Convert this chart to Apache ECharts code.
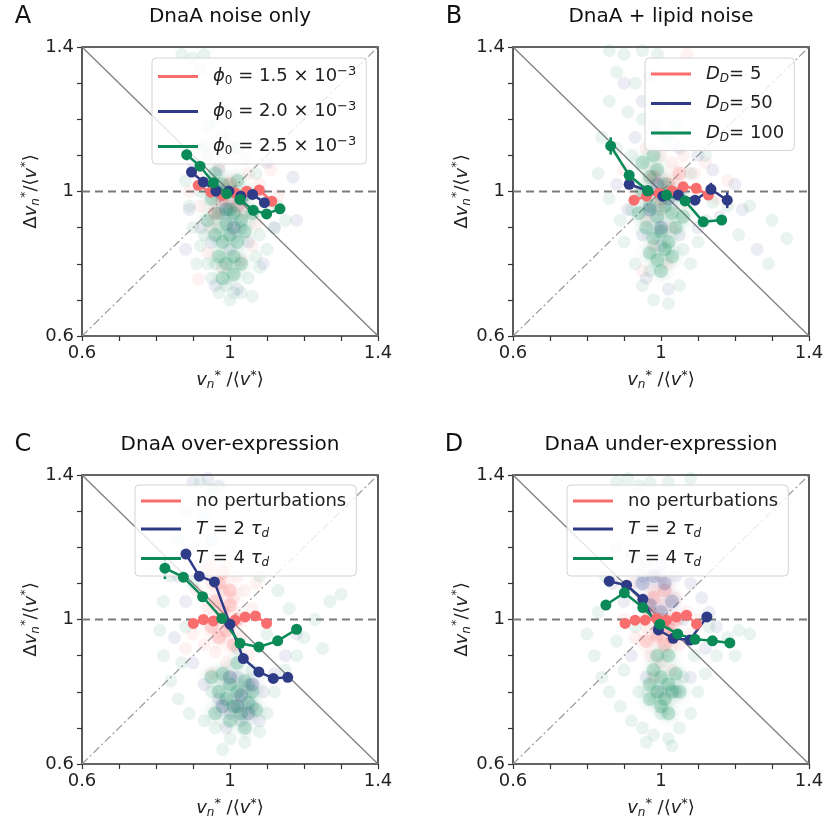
<!DOCTYPE html>
<html><head><meta charset="utf-8">
<script src="https://cdn.jsdelivr.net/npm/echarts@6/dist/echarts.min.js"></script>
<style>html,body{margin:0;padding:0;background:#fff}#c{width:827px;height:825px}</style>
</head><body><div id="c"></div>
<script>
// ---------- axis / text data ----------
const AXIS_MIN = 0.6, AXIS_MAX = 1.4, TICK_STEP = 0.1;
const TICK_VALUES = [0.6, 1, 1.4];
const TICK_LABELS = ['0.6', '1', '1.4'];
const PANEL_LETTERS = ['A', 'B', 'C', 'D'];
const PANEL_TITLES = ['DnaA noise only', 'DnaA + lipid noise', 'DnaA over-expression', 'DnaA under-expression'];
const X_NAME = '{i|v}{sub|n}{sup|*} /⟨{i|v}{sup|*}⟩';
const Y_NAME = 'Δ{i|v}{sub|n}{sup|*}/⟨{i|v}{sup|*}⟩';
const LEGEND_A = ['{i|ϕ}{sub0|0} = 1.5 × 10{sup|−3}', '{i|ϕ}{sub0|0} = 2.0 × 10{sup|−3}', '{i|ϕ}{sub0|0} = 2.5 × 10{sup|−3}'];
const LEGEND_B = ['{i|D}{sub|D}= 5', '{i|D}{sub|D}= 50', '{i|D}{sub|D}= 100'];
const LEGEND_C = ['no perturbations', '{i|T} = 2 {i|τ}{sub|d}', '{i|T} = 4 {i|τ}{sub|d}'];
const LEGEND_D = ['no perturbations', '{i|T} = 2 {i|τ}{sub|d}', '{i|T} = 4 {i|τ}{sub|d}'];
const REF_DIAG = [[0.6, 0.6], [1.4, 1.4]];
const REF_ANTI = [[0.6, 1.4], [1.4, 0.6]];
const REF_H = [[0.6, 1], [1.4, 1]];

// ---------- binned means [x, y, err] ----------
const A_RED_MEAN = [[0.914,1.017,0.006],[0.948,0.998,0.005],[0.980,0.989,0.004],[1.014,0.996,0.004],[1.045,1.001,0.004],[1.079,1.004,0.005],[1.113,0.973,0.006]];
const A_BLUE_MEAN = [[0.896,1.054,0.008],[0.928,1.026,0.005],[0.962,1.001,0.004],[0.997,1.001,0.004],[1.029,0.987,0.004],[1.061,0.992,0.005],[1.093,0.969,0.006]];
const A_GREEN_MEAN = [[0.883,1.102,0.018],[0.919,1.070,0.008],[0.955,1.024,0.005],[0.991,0.994,0.004],[1.027,0.978,0.004],[1.063,0.948,0.005],[1.099,0.938,0.006],[1.135,0.952,0.008]];
const B_RED_MEAN = [[0.927,0.976,0.008],[0.961,0.987,0.005],[0.995,0.996,0.004],[1.029,1.002,0.004],[1.060,1.013,0.005],[1.095,1.009,0.006],[1.128,0.990,0.010]];
const B_BLUE_MEAN = [[0.914,1.020,0.008],[0.964,1.002,0.004],[1.005,0.987,0.004],[1.047,0.990,0.004],[1.092,0.976,0.006],[1.135,1.006,0.018],[1.179,0.976,0.022]];
const B_GREEN_MEAN = [[0.864,1.126,0.024],[0.914,1.045,0.008],[0.964,1.002,0.005],[1.015,0.990,0.004],[1.065,0.974,0.005],[1.114,0.916,0.008],[1.164,0.921,0.010]];
const C_RED_MEAN = [[0.901,0.989,0.006],[0.928,1.000,0.005],[0.955,0.996,0.004],[0.978,1.003,0.004],[1.014,0.998,0.004],[1.041,1.007,0.004],[1.069,1.010,0.005],[1.099,0.989,0.006]];
const C_BLUE_MEAN = [[0.881,1.181,0.012],[0.917,1.120,0.008],[0.958,1.104,0.006],[1.000,0.987,0.005],[1.036,0.892,0.005],[1.078,0.855,0.006],[1.117,0.837,0.006],[1.156,0.840,0.008]];
const C_GREEN_MEAN = [[0.824,1.142,0.030],[0.874,1.117,0.010],[0.926,1.063,0.006],[0.978,1.003,0.005],[1.027,0.934,0.005],[1.078,0.924,0.006],[1.129,0.941,0.007],[1.180,0.973,0.008]];
const D_RED_MEAN = [[0.903,0.989,0.006],[0.930,0.998,0.005],[0.957,0.998,0.004],[0.988,1.003,0.004],[1.015,0.998,0.004],[1.042,1.007,0.004],[1.069,1.012,0.005],[1.096,0.987,0.006]];
const D_BLUE_MEAN = [[0.860,1.106,0.008],[0.907,1.095,0.006],[0.951,1.056,0.005],[0.993,0.971,0.005],[1.033,0.948,0.005],[1.078,0.943,0.006],[1.124,1.007,0.008]];
const D_GREEN_MEAN = [[0.851,1.040,0.014],[0.901,1.074,0.008],[0.951,1.033,0.006],[0.997,0.987,0.005],[1.045,0.960,0.005],[1.092,0.945,0.006],[1.139,0.941,0.007],[1.186,0.935,0.010]];

// ---------- individual cells (estimated) ----------
const A_RED_CLOUD = [[0.91,1.05],[0.94,1.1],[0.97,1.07],[1.01,1.1],[1.05,1.05],[1.08,1.02],[1.11,1.06],[1.13,0.99],[0.92,0.96],[0.95,0.9],[1.0,0.97],[1.04,0.94],[1.07,0.91],[0.94,0.83],[0.98,0.79],[1.03,0.81],[0.915,0.757],[0.89,1.0],[1.0,1.15],[1.06,0.85]];
const A_BLUE_CLOUD = [[0.9,1.08],[0.93,1.13],[0.97,1.06],[1.0,1.12],[1.04,1.09],[1.08,1.0],[1.17,1.04],[1.18,0.92],[0.92,0.9],[0.95,0.86],[1.0,0.84],[1.05,0.86],[1.09,0.8],[0.96,0.74],[1.02,0.73],[0.89,0.95],[1.12,0.9],[0.88,0.84],[1.1,1.08],[0.94,1.18]];
const A_GREEN_CLOUD = [[0.87,1.38],[0.9,1.37],[0.93,1.38],[0.92,1.34],[0.88,1.03],[0.89,0.96],[0.9,0.9],[0.92,0.85],[0.91,0.8],[0.95,0.76],[0.97,0.72],[1.0,0.7],[1.03,0.72],[1.05,0.76],[1.08,0.79],[1.1,0.84],[1.12,0.9],[1.15,0.92],[1.11,0.97],[1.07,1.05],[1.02,1.12],[0.98,1.15],[0.94,1.1],[0.91,1.12],[0.96,1.2],[1.0,1.22],[0.92,1.0],[1.08,0.88],[0.94,0.8],[1.06,0.71],[1.13,0.96],[0.95,1.02],[1.05,1.0],[0.97,0.9],[1.03,0.9],[0.99,0.74],[1.01,0.72],[0.93,0.88],[1.07,0.82],[0.96,0.8]];
const A_RED_CORE = [[0.98,0.98],[1.02,0.96],[1.0,1.02],[0.96,0.94]];
const A_BLUE_CORE = [[0.99,0.95],[1.01,0.9],[0.97,1.0],[1.03,0.98]];
const A_GREEN_CORE = [[0.95,0.98],[0.97,0.94],[0.99,0.91],[1.01,0.94],[1.03,0.92],[0.96,0.88],[0.98,0.86],[1.0,0.88],[1.02,0.86],[1.04,0.89],[0.97,0.82],[0.99,0.8],[1.01,0.82],[1.03,0.8],[0.98,1.02],[1.0,1.0],[1.02,1.03],[0.96,1.05],[1.04,0.99],[1.0,0.95],[0.98,0.76],[1.01,0.77],[0.94,0.92],[1.06,0.94]];

const B_RED_CLOUD = [[0.96,1.12],[1.0,1.1],[1.03,1.08],[1.06,1.1],[1.09,1.05],[1.1,1.0],[1.07,0.97],[1.04,1.02],[1.07,1.38],[0.93,1.0],[0.96,0.92],[1.0,0.95],[1.03,0.9],[0.98,0.85],[1.02,0.8],[1.12,1.08],[1.15,0.98],[0.9,1.06],[1.18,1.03],[0.95,0.78]];
const B_BLUE_CLOUD = [[0.9,1.3],[0.95,1.25],[0.93,1.15],[0.98,1.18],[1.02,1.15],[1.05,1.12],[1.1,1.1],[1.14,1.06],[1.2,1.02],[1.22,0.95],[1.26,0.84],[0.88,1.02],[0.91,0.95],[0.95,0.88],[1.0,0.85],[1.05,0.88],[1.1,0.9],[0.96,0.76],[1.02,0.73],[1.16,0.93]];
const B_GREEN_CLOUD = [[0.86,1.39],[0.9,1.38],[0.95,1.39],[0.99,1.38],[0.88,1.33],[0.93,1.3],[0.97,1.32],[0.86,1.25],[0.91,1.22],[0.95,1.2],[1.0,1.24],[0.84,1.15],[0.88,1.12],[0.92,1.1],[1.0,1.16],[1.04,1.18],[0.83,1.05],[0.86,0.98],[0.89,0.92],[0.9,0.86],[0.93,0.8],[0.95,0.74],[0.98,0.7],[1.02,0.69],[1.05,0.74],[1.08,0.8],[1.1,0.86],[1.12,0.92],[1.14,0.97],[1.18,0.96],[1.24,0.96],[1.3,0.92],[1.34,0.87],[1.29,0.8],[1.21,0.88],[0.97,0.78],[1.06,0.84],[0.92,0.95],[1.08,1.05],[1.12,1.1]];
const B_RED_CORE = [[1.02,1.02],[1.05,1.05],[1.0,0.98],[0.98,1.04]];
const B_BLUE_CORE = [[0.97,0.95],[1.0,0.9],[1.02,0.98],[0.99,1.02]];
const B_GREEN_CORE = [[0.95,1.0],[0.97,0.96],[0.99,0.93],[1.01,0.96],[1.03,0.94],[0.96,0.9],[0.98,0.87],[1.0,0.89],[1.02,0.86],[1.04,0.9],[0.97,0.83],[0.99,0.81],[1.01,0.84],[1.03,0.82],[0.97,1.04],[0.99,1.06],[1.01,1.02],[0.95,1.08],[1.05,0.99],[1.0,0.99],[0.98,1.1],[1.0,0.78],[0.94,0.94],[1.06,0.93]];

const C_RED_CLOUD = [[0.93,1.2],[0.96,1.17],[0.99,1.15],[1.02,1.12],[0.95,1.1],[0.98,1.08],[1.01,1.06],[1.04,1.08],[1.06,1.03],[0.94,1.03],[0.97,1.0],[1.0,0.98],[0.9,0.96],[0.93,0.93],[0.96,0.91],[0.88,0.92],[1.03,0.95],[0.99,0.88],[1.07,1.1],[0.91,1.08],[0.95,0.85],[1.05,0.9],[0.97,1.25],[1.0,1.2]];
const C_BLUE_CLOUD = [[0.9,1.38],[0.94,1.39],[0.97,1.37],[0.88,1.3],[0.93,1.28],[0.9,1.2],[0.95,1.22],[0.86,1.12],[0.88,1.05],[0.85,0.95],[0.9,0.88],[0.93,0.82],[0.97,0.78],[1.0,0.74],[1.03,0.72],[1.06,0.76],[1.09,0.8],[1.12,0.85],[1.15,0.9],[1.02,0.84],[1.05,0.82],[0.99,0.7],[1.08,0.72],[1.18,0.96]];
const C_GREEN_CLOUD = [[0.92,1.38],[0.95,1.36],[0.86,1.22],[0.84,1.12],[0.82,1.05],[0.81,0.97],[0.82,0.9],[0.84,0.83],[0.86,0.78],[0.89,0.74],[0.93,0.72],[0.96,0.7],[1.0,0.67],[1.04,0.66],[1.08,0.69],[1.1,0.74],[1.12,0.8],[1.15,0.86],[1.18,0.9],[1.2,0.95],[1.23,1.0],[1.27,1.05],[1.3,1.07],[1.25,0.92],[1.16,1.03],[1.13,1.08],[1.08,1.12],[0.88,0.98],[0.87,0.88],[0.95,0.8],[1.06,0.86],[0.9,1.1],[1.02,0.92],[1.1,0.96],[0.98,0.64]];
const C_RED_CORE = [[0.96,1.05],[0.98,1.02],[1.0,1.04],[1.02,1.0],[0.95,0.98],[0.97,0.95],[0.99,0.97],[1.01,0.93],[0.97,1.1],[1.0,1.08],[0.94,1.14],[0.98,1.13]];
const C_BLUE_CORE = [[1.0,0.84],[1.03,0.79],[1.05,0.74],[1.02,0.76],[1.06,0.82],[0.98,0.76]];
const C_GREEN_CORE = [[0.98,0.85],[1.0,0.82],[1.02,0.8],[1.04,0.83],[1.06,0.8],[0.99,0.78],[1.01,0.76],[1.03,0.74],[1.05,0.77],[0.97,0.8],[1.07,0.75],[1.0,0.72],[1.04,0.7],[0.96,0.74],[0.95,0.84],[1.02,0.88]];

const D_RED_CLOUD = [[0.92,1.1],[0.95,1.05],[0.98,1.08],[1.01,1.04],[1.04,1.06],[1.07,1.02],[0.96,0.98],[0.99,0.95],[1.02,0.97],[1.05,0.93],[1.08,0.96],[0.93,0.95],[0.97,0.9],[1.0,0.88],[1.03,0.86],[0.94,1.15],[1.0,1.12],[1.1,1.0],[0.9,1.0],[0.98,0.84]];
const D_BLUE_CLOUD = [[0.88,1.2],[0.92,1.18],[0.96,1.16],[1.0,1.15],[1.04,1.12],[1.08,1.1],[1.11,1.06],[1.13,1.02],[0.87,1.1],[0.9,1.05],[0.95,1.12],[1.06,1.0],[0.92,0.9],[0.96,0.84],[1.0,0.8],[1.04,0.8],[1.08,0.84],[1.12,0.92],[1.15,0.98],[0.98,1.25]];
const D_GREEN_CLOUD = [[0.88,1.38],[0.91,1.39],[0.94,1.37],[0.97,1.38],[1.02,1.38],[1.08,1.39],[0.85,1.12],[0.83,1.02],[0.8,0.96],[0.82,0.9],[0.84,0.84],[0.86,0.8],[0.89,0.76],[0.92,0.72],[0.95,0.7],[0.98,0.68],[1.02,0.67],[1.05,0.7],[1.08,0.74],[1.1,0.8],[1.12,0.85],[1.15,0.9],[1.18,0.95],[1.21,0.97],[1.24,0.96],[1.2,0.9],[1.13,0.98],[0.88,0.94],[0.9,0.86],[0.94,0.8],[1.06,0.84],[1.09,0.9],[0.93,0.98],[1.0,0.74],[0.96,0.66],[1.03,0.65]];
const D_RED_CORE = [[0.97,1.02],[1.0,1.0],[1.02,0.98],[1.04,1.0],[0.99,0.96],[1.01,0.93],[1.03,0.95],[0.98,1.06],[1.01,1.08],[0.96,0.94]];
const D_BLUE_CORE = [[0.95,1.1],[0.98,1.12],[1.01,1.1],[0.97,1.04],[1.03,1.05],[1.0,1.02]];
const D_GREEN_CORE = [[0.98,0.86],[1.0,0.84],[1.02,0.82],[1.04,0.85],[0.99,0.8],[1.01,0.78],[1.03,0.8],[0.97,0.78],[1.05,0.8],[1.0,0.76],[1.02,0.74],[0.99,0.9],[1.02,0.9],[0.97,0.82]];

// ---------- style ----------
const FONT = 'DejaVu Sans';
const COLORS = ['#f86e6e', '#2e3b86', '#0b8a58'];
const GRID_POS = [[82, 47], [513, 47], [82, 475], [513, 475]];
const GRID_W = 296, GRID_H = 289;
const LEGEND_POS = [[152, 58], [645, 58], [135, 485], [567, 485]];
const LEGEND_GAP = [13, 10, 10, 10];

const PANELS = [
  {mean: [A_RED_MEAN, A_BLUE_MEAN, A_GREEN_MEAN], cloud: [A_RED_CLOUD, A_BLUE_CLOUD, A_GREEN_CLOUD], core: [A_RED_CORE, A_BLUE_CORE, A_GREEN_CORE], legend: LEGEND_A},
  {mean: [B_RED_MEAN, B_BLUE_MEAN, B_GREEN_MEAN], cloud: [B_RED_CLOUD, B_BLUE_CLOUD, B_GREEN_CLOUD], core: [B_RED_CORE, B_BLUE_CORE, B_GREEN_CORE], legend: LEGEND_B},
  {mean: [C_RED_MEAN, C_BLUE_MEAN, C_GREEN_MEAN], cloud: [C_RED_CLOUD, C_BLUE_CLOUD, C_GREEN_CLOUD], core: [C_RED_CORE, C_BLUE_CORE, C_GREEN_CORE], legend: LEGEND_C},
  {mean: [D_RED_MEAN, D_BLUE_MEAN, D_GREEN_MEAN], cloud: [D_RED_CLOUD, D_BLUE_CLOUD, D_GREEN_CLOUD], core: [D_RED_CORE, D_BLUE_CORE, D_GREEN_CORE], legend: LEGEND_D}
];

const RICH = {
  i: {fontFamily: FONT, fontStyle: 'italic', fontSize: 18, color: '#222'},
  sub: {fontFamily: FONT, fontStyle: 'italic', fontSize: 12, color: '#222', padding: [9, 0, 0, 0]},
  sub0: {fontFamily: FONT, fontSize: 12, color: '#222', padding: [9, 0, 0, 0]},
  sup: {fontFamily: FONT, fontSize: 13, color: '#222', padding: [0, 0, 10, 0]}
};

function tickFmt(v) {
  for (let k = 0; k < TICK_VALUES.length; k++) if (Math.abs(v - TICK_VALUES[k]) < 1e-6) return TICK_LABELS[k];
  return '';
}

const grid = [], xAxis = [], yAxis = [], series = [], legend = [], graphic = [];
const nameToLabel = {};

PANELS.forEach((p, i) => {
  grid.push({left: GRID_POS[i][0], top: GRID_POS[i][1], width: GRID_W, height: GRID_H, show: true, borderColor: '#333', borderWidth: 1.6, backgroundColor: 'transparent'});
  const axisCommon = {
    type: 'value', gridIndex: i, min: AXIS_MIN, max: AXIS_MAX, interval: TICK_STEP,
    axisLine: {show: false}, splitLine: {show: false},
    axisTick: {show: true, inside: false, length: 5, lineStyle: {color: '#333', width: 1.2}},
    axisLabel: {show: true, formatter: tickFmt, fontFamily: FONT, fontSize: 18, color: '#222', margin: 8, showMinLabel: true, showMaxLabel: true},
    nameLocation: 'middle', nameTextStyle: {fontFamily: FONT, fontSize: 18, color: '#222', rich: RICH}
  };
  xAxis.push(Object.assign({}, axisCommon, {name: X_NAME, nameGap: 33}));
  yAxis.push(Object.assign({}, axisCommon, {name: Y_NAME, nameGap: 38, nameRotate: 90}));

  const refBase = {type: 'line', xAxisIndex: i, yAxisIndex: i, symbol: 'none', silent: true, z: 1};
  series.push(Object.assign({}, refBase, {data: REF_ANTI, lineStyle: {color: '#808080', width: 1.3}}));
  series.push(Object.assign({}, refBase, {data: REF_DIAG, lineStyle: {color: '#999', width: 1.2, type: [8, 3, 2, 3]}}));
  series.push(Object.assign({}, refBase, {data: REF_H, lineStyle: {color: '#7a7a7a', width: 2, type: [8, 5]}}));

  for (let c = 0; c < 3; c++) {
    series.push({type: 'scatter', xAxisIndex: i, yAxisIndex: i, data: p.cloud[c], symbolSize: 13, silent: true, z: 2,
      itemStyle: {color: COLORS[c], opacity: 0.09}});
    series.push({type: 'scatter', xAxisIndex: i, yAxisIndex: i, data: p.core[c], symbolSize: 14, silent: true, z: 2,
      itemStyle: {color: COLORS[c], opacity: 0.2, shadowBlur: 10, shadowColor: COLORS[c]}});
  }
  const names = [];
  for (let c = 0; c < 3; c++) {
    const nm = PANEL_LETTERS[i] + '_' + c;
    names.push(nm);
    nameToLabel[nm] = p.legend[c];
    const col = COLORS[c];
    series.push({type: 'custom', xAxisIndex: i, yAxisIndex: i, silent: true, z: 3, data: p.mean[c],
      encode: {x: 0, y: 1},
      renderItem: (params, api) => {
        const x = api.value(0), y = api.value(1), e = api.value(2);
        const a = api.coord([x, y - e]), b = api.coord([x, y + e]);
        return {type: 'line', shape: {x1: a[0], y1: a[1], x2: b[0], y2: b[1]}, style: {stroke: col, lineWidth: 2.5}};
      }});
    series.push({name: nm, type: 'line', xAxisIndex: i, yAxisIndex: i, z: 4, data: p.mean[c].map(d => [d[0], d[1]]),
      symbol: 'circle', symbolSize: 11, showSymbol: true, lineStyle: {color: col, width: 2.5}, itemStyle: {color: col}});
  }
  legend.push({data: names, orient: 'vertical', left: LEGEND_POS[i][0], top: LEGEND_POS[i][1],
    icon: 'rect', itemWidth: 40, itemHeight: 3, itemGap: LEGEND_GAP[i], padding: [7, 10, 7, 6],
    backgroundColor: 'rgba(255,255,255,0.8)', borderColor: '#d3d3d3', borderWidth: 1, borderRadius: 4,
    selectedMode: false, formatter: n => nameToLabel[n],
    textStyle: {fontFamily: FONT, fontSize: 18, color: '#222', padding: [0, 0, 0, 10], rich: RICH}});

  const cx = GRID_POS[i][0] + GRID_W / 2;
  const ty = GRID_POS[i][1] - 30;
  graphic.push({type: 'text', x: cx, y: ty, style: {text: PANEL_TITLES[i], font: '20px "DejaVu Sans"', fill: '#111', textAlign: 'center', textVerticalAlign: 'middle'}});
  graphic.push({type: 'text', x: (i % 2 === 0 ? 23 : 454), y: ty, style: {text: PANEL_LETTERS[i], font: '24px "DejaVu Sans"', fill: '#111', textAlign: 'center', textVerticalAlign: 'middle'}});
});

const chart = echarts.init(document.getElementById('c'), null, {renderer: 'canvas'});
chart.setOption({animation: false, backgroundColor: '#fff', grid, xAxis, yAxis, series, legend, graphic});
</script></body></html>
